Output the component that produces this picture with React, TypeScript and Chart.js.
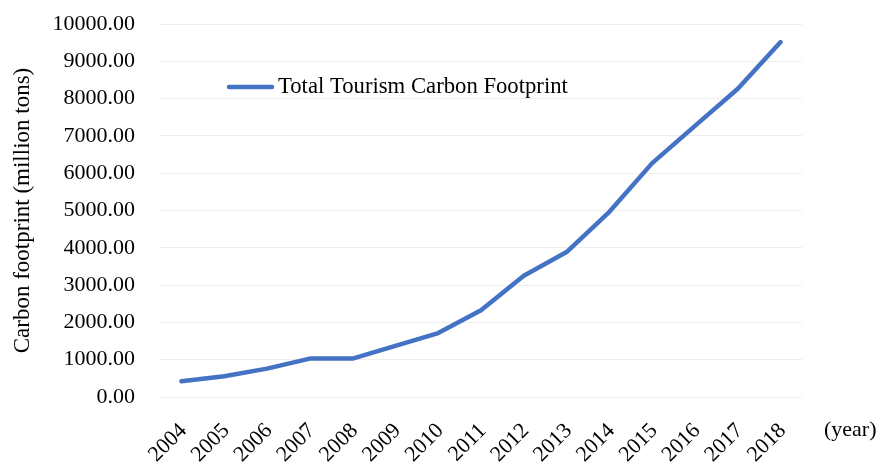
import React, { useEffect, useRef } from "react";
import { Chart, registerables } from "chart.js";

Chart.register(...registerables);

// Annual values
const years = [
  "2004", "2005", "2006", "2007", "2008", "2009", "2010", "2011",
  "2012", "2013", "2014", "2015", "2016", "2017", "2018",
];
const totalFootprint = [
  420, 555, 760, 1030, 1030, 1370, 1715, 2325,
  3250, 3885, 4965, 6270, 7270, 8265, 9515,
];
const seriesLabel = "Total Tourism Carbon Footprint";
const yTitle = "Carbon footprint (million tons)";
const xUnit = "(year)";

const FONT = "'Liberation Serif', 'Times New Roman', serif";
const LINE_COLOR = "#4472C4";

// Legend drawn inside the plot plus the unit label next to the x axis
const annotations = {
  id: "annotations",
  afterDraw(chart: any) {
    const { ctx } = chart;
    const ds = chart.data.datasets[0];
    ctx.save();
    // legend entry
    ctx.strokeStyle = ds.borderColor;
    ctx.lineWidth = 4.5;
    ctx.lineCap = "round";
    ctx.beginPath();
    ctx.moveTo(229, 87);
    ctx.lineTo(272, 87);
    ctx.stroke();
    ctx.fillStyle = "#000";
    ctx.font = `22.7px ${FONT}`;
    ctx.textAlign = "left";
    ctx.textBaseline = "middle";
    ctx.fillText(ds.label, 278, 87);
    // x unit
    ctx.font = `22px ${FONT}`;
    ctx.fillText(xUnit, 824, 430);
    ctx.restore();
  },
};

export default function App() {
  const canvasRef = useRef<HTMLCanvasElement>(null);

  useEffect(() => {
    const chart = new Chart(canvasRef.current!, {
      type: "line",
      data: {
        labels: years,
        datasets: [
          {
            label: seriesLabel,
            data: totalFootprint,
            borderColor: LINE_COLOR,
            backgroundColor: LINE_COLOR,
            borderWidth: 4.5,
            borderCapStyle: "round",
            borderJoinStyle: "round",
            pointRadius: 0,
            tension: 0,
            fill: false,
          },
        ],
      },
      options: {
        animation: false,
        responsive: false,
        layout: { padding: { left: 0, right: 78, top: 24, bottom: 0 } },
        plugins: {
          legend: { display: false },
          tooltip: { enabled: false },
        },
        scales: {
          x: {
            offset: true,
            grid: { display: false, drawTicks: false },
            border: { display: false },
            ticks: {
              color: "#000",
              font: { family: FONT, size: 22 },
              minRotation: 45,
              maxRotation: 45,
              padding: 21,
              labelOffset: 2,
              autoSkip: false,
            },
            afterFit(scale: any) {
              scale.height = 65;
            },
          },
          y: {
            min: 0,
            max: 10000,
            grid: { color: "#eeeeee", lineWidth: 1, drawTicks: false },
            border: { display: false },
            ticks: {
              stepSize: 1000,
              color: "#000",
              font: { family: FONT, size: 22 },
              padding: 25,
              callback: (v: any) => Number(v).toFixed(2),
            },
            title: {
              display: true,
              text: yTitle,
              color: "#000",
              font: { family: FONT, size: 23 },
              padding: { top: 9, bottom: 0 },
            },
            afterFit(scale: any) {
              scale.width = 160;
              scale.paddingTop = 0;
              scale.paddingBottom = 0;
            },
          },
        },
      },
      plugins: [annotations],
    });
    return () => chart.destroy();
  }, []);

  return (
    <div style={{ position: "absolute", left: 0, top: 0, width: 880, height: 462, background: "#fff" }}>
      <canvas ref={canvasRef} width={880} height={462} />
    </div>
  );
}
